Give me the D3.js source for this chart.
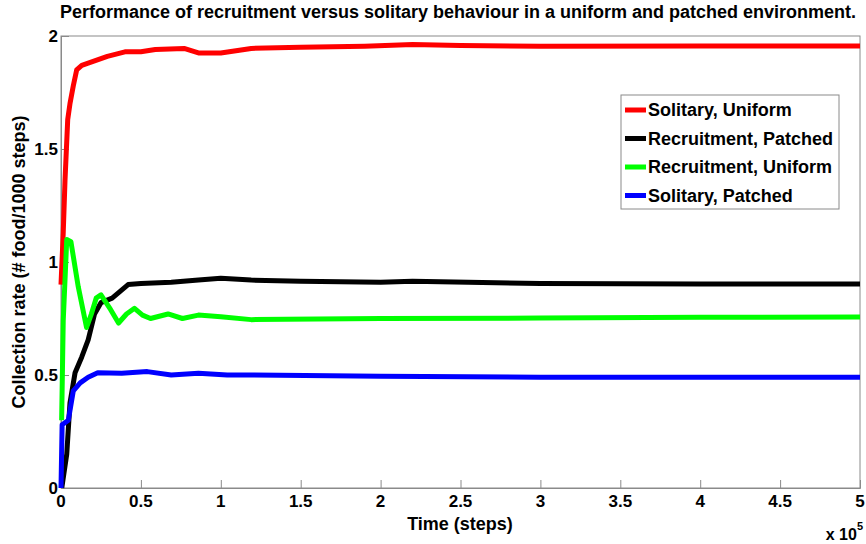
<!DOCTYPE html>
<html>
<head>
<meta charset="utf-8">
<script src="https://cdn.jsdelivr.net/npm/d3@7"></script>
<style>
  body { margin: 0; background: #fff; }
  svg text { font-family: "Liberation Sans", Arial, sans-serif; font-weight: bold; fill: #000; }
</style>
</head>
<body>
<svg id="chart" width="866" height="544"></svg>
<script>
// x in steps, y in food / 1000 steps
var soloUniform = [[0, 0.9], [1400, 1.13], [2500, 1.36], [4200, 1.63], [5600, 1.70], [7700, 1.78], [9800, 1.85],
  [13000, 1.87], [21000, 1.89], [29000, 1.91], [40000, 1.93], [50000, 1.93], [59000, 1.94], [77000, 1.945],
  [86000, 1.925], [100000, 1.925], [119000, 1.945], [150000, 1.95], [190000, 1.955], [220000, 1.962],
  [250000, 1.958], [300000, 1.955], [400000, 1.956], [500000, 1.956]];
var recruitPatched = [[500, 0], [3600, 0.15], [5600, 0.375], [8800, 0.51], [13000, 0.58], [17000, 0.655],
  [21000, 0.77], [25000, 0.82], [32000, 0.84], [37000, 0.87], [42000, 0.90], [50000, 0.905], [69000, 0.91],
  [86000, 0.92], [100000, 0.928], [119000, 0.92], [150000, 0.915], [200000, 0.91], [220000, 0.915],
  [300000, 0.905], [400000, 0.903], [500000, 0.903]];
var recruitUniform = [[400, 0.30], [1400, 0.74], [3600, 1.10], [6200, 1.09], [10800, 0.89], [16000, 0.71],
  [19000, 0.77], [22000, 0.84], [25000, 0.855], [31000, 0.79], [36000, 0.73], [41000, 0.77], [46000, 0.795],
  [51000, 0.765], [56000, 0.75], [67000, 0.77], [76000, 0.75], [86000, 0.765], [100000, 0.758],
  [119000, 0.745], [200000, 0.75], [300000, 0.752], [400000, 0.755], [500000, 0.757]];
var soloPatched = [[0, 0], [700, 0.28], [4600, 0.30], [7700, 0.43], [12000, 0.465], [17000, 0.49],
  [23000, 0.51], [38000, 0.508], [54000, 0.515], [69000, 0.50], [86000, 0.508], [104000, 0.50],
  [119000, 0.50], [200000, 0.495], [300000, 0.49], [400000, 0.49], [500000, 0.49]];

var seriesNames = ["Solitary, Uniform", "Recruitment, Patched", "Recruitment, Uniform", "Solitary, Patched"];
var seriesColors = ["#ff0000", "#000000", "#00ff00", "#0000ff"];
var seriesData = [soloUniform, recruitPatched, recruitUniform, soloPatched];
var xTicks = [0, 0.5, 1, 1.5, 2, 2.5, 3, 3.5, 4, 4.5, 5];
var yTicks = [0, 0.5, 1, 1.5, 2];

var svg = d3.select("#chart");
var plotL = 61, plotR = 860, plotT = 36, plotB = 488;

var x = d3.scaleLinear().domain([0, 500000]).range([plotL, plotR]);
var y = d3.scaleLinear().domain([0, 2]).range([plotB, plotT]);

// axes, ticks inward like matlab
svg.append("g").attr("transform", "translate(0," + plotB + ")")
  .call(d3.axisTop(x).tickValues(xTicks.map(function(d) { return d * 1e5; })).tickSize(8).tickFormat(""));
svg.append("g").attr("transform", "translate(" + plotL + ",0)")
  .call(d3.axisRight(y).tickValues(yTicks).tickSize(8).tickFormat(""));
svg.selectAll(".domain, .tick line").attr("stroke", "#8a8a8a").attr("stroke-width", 1);

// box
svg.append("rect").attr("x", plotL).attr("y", plotT).attr("width", plotR - plotL).attr("height", plotB - plotT)
  .attr("fill", "none").attr("stroke", "#8a8a8a");

// tick labels
svg.selectAll("text.xt").data(xTicks).enter().append("text").attr("class", "xt")
  .attr("x", function(d) { return x(d * 1e5); }).attr("y", plotB + 19)
  .attr("text-anchor", "middle").attr("font-size", 17).text(function(d) { return d; });
svg.selectAll("text.yt").data(yTicks).enter().append("text").attr("class", "yt")
  .attr("x", plotL - 3).attr("y", function(d) { return y(d) + 6; })
  .attr("text-anchor", "end").attr("font-size", 17).text(function(d) { return d; });

// curves
var line = d3.line().x(function(d) { return x(d[0]); }).y(function(d) { return y(d[1]); });
seriesData.forEach(function(s, i) {
  svg.append("path").datum(s).attr("d", line).attr("fill", "none")
    .attr("stroke", seriesColors[i]).attr("stroke-width", 5).attr("stroke-linejoin", "round");
});

// labels
svg.append("text").attr("x", 458).attr("y", 18).attr("text-anchor", "middle").attr("font-size", 18)
  .text("Performance of recruitment versus solitary behaviour in a uniform and patched environment.");
svg.append("text").attr("x", 460).attr("y", 530).attr("text-anchor", "middle").attr("font-size", 18)
  .text("Time (steps)");
svg.append("text").attr("transform", "translate(25,262) rotate(-90)").attr("text-anchor", "middle")
  .attr("font-size", 18).text("Collection rate (# food/1000 steps)");
var mult = svg.append("text").attr("x", 863).attr("y", 540).attr("text-anchor", "end")
  .attr("font-size", 16).text("x 10");
mult.append("tspan").attr("dy", -10).attr("font-size", 11).text("5");

// legend
var lg = svg.append("g").attr("transform", "translate(621,95)");
lg.append("rect").attr("width", 218).attr("height", 114).attr("fill", "#fff").attr("stroke", "#8a8a8a");
seriesNames.forEach(function(n, i) {
  var ly = 15 + i * 28.5;
  lg.append("line").attr("x1", 4).attr("x2", 25).attr("y1", ly).attr("y2", ly)
    .attr("stroke", seriesColors[i]).attr("stroke-width", 5);
  lg.append("text").attr("x", 27).attr("y", ly + 6).attr("font-size", 18).text(n);
});
</script>
</body>
</html>
